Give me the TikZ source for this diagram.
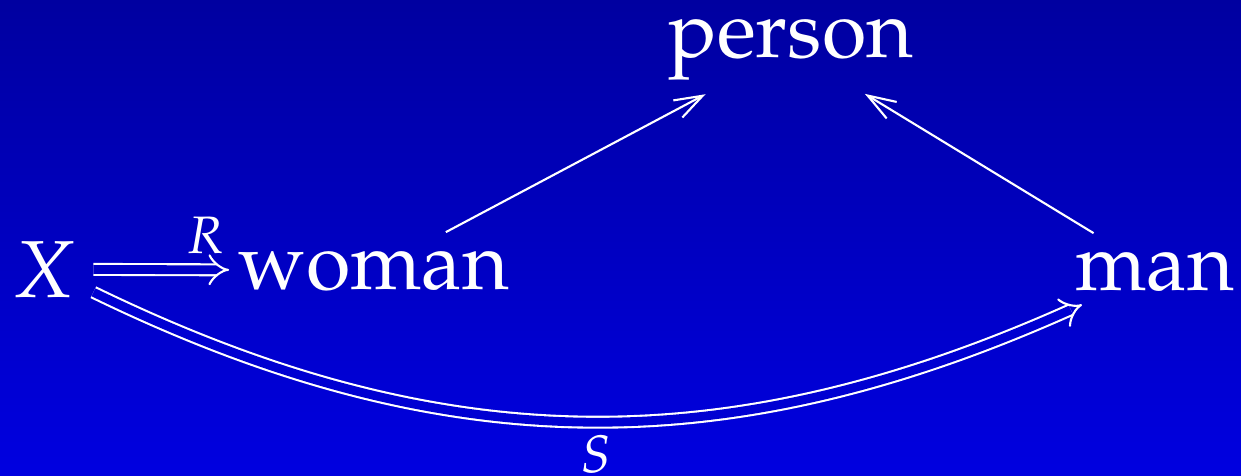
\documentclass[tikz,border=0pt]{standalone}
\usepackage[T1]{fontenc}
\usepackage{mathpazo}
\usepackage{xcolor}
\usepackage{tikz}
\usetikzlibrary{arrows.meta}
\definecolor{slidetop}{RGB}{0,0,160}
\definecolor{slidebottom}{RGB}{0,0,224}

\begin{document}
\begin{tikzpicture}[
    obj/.style={text=white, inner sep=0.17cm, font=\fontsize{23}{28}\selectfont},
    lbl/.style={text=white, inner sep=0pt, font=\fontsize{15}{18}\selectfont},
    map/.style={white, line width=0.6pt, shorten >=-0.07cm, -{Straight Barb[length=8pt,width=5.5pt]}},
    dmap/.style={white, line width=0.6pt, double distance=2.5pt, shorten >=-0.08cm, -Implies}]
  \shade[top color=slidetop, bottom color=slidebottom] (0,0) rectangle (12.41,-4.75);
  \useasboundingbox (0,0) rectangle (12.41,-4.75);
  % objects
  \node[obj, anchor=base] (X) at (0.44,-2.97) {$X$};
  \node[obj, anchor=base] (woman) at (3.74,-2.89) {woman};
  \node[obj, anchor=base] (person) at (7.91,-0.57) {person};
  \node[obj, anchor=base] (man) at (11.55,-2.90) {man};
  % arrows
  \draw[dmap, double=slidebottom!57!slidetop] (X) -- (woman)
    node[lbl, pos=0.88, above=0.15cm] {$R$};
  \draw[map] (woman) -- (person);
  \draw[map] (man) -- (person);
  \draw[dmap, double=slidebottom!78!slidetop] (X) to[bend right=25]
    node[lbl, pos=0.515, below=0.12cm] {$S$} (man);
\end{tikzpicture}
\end{document}
